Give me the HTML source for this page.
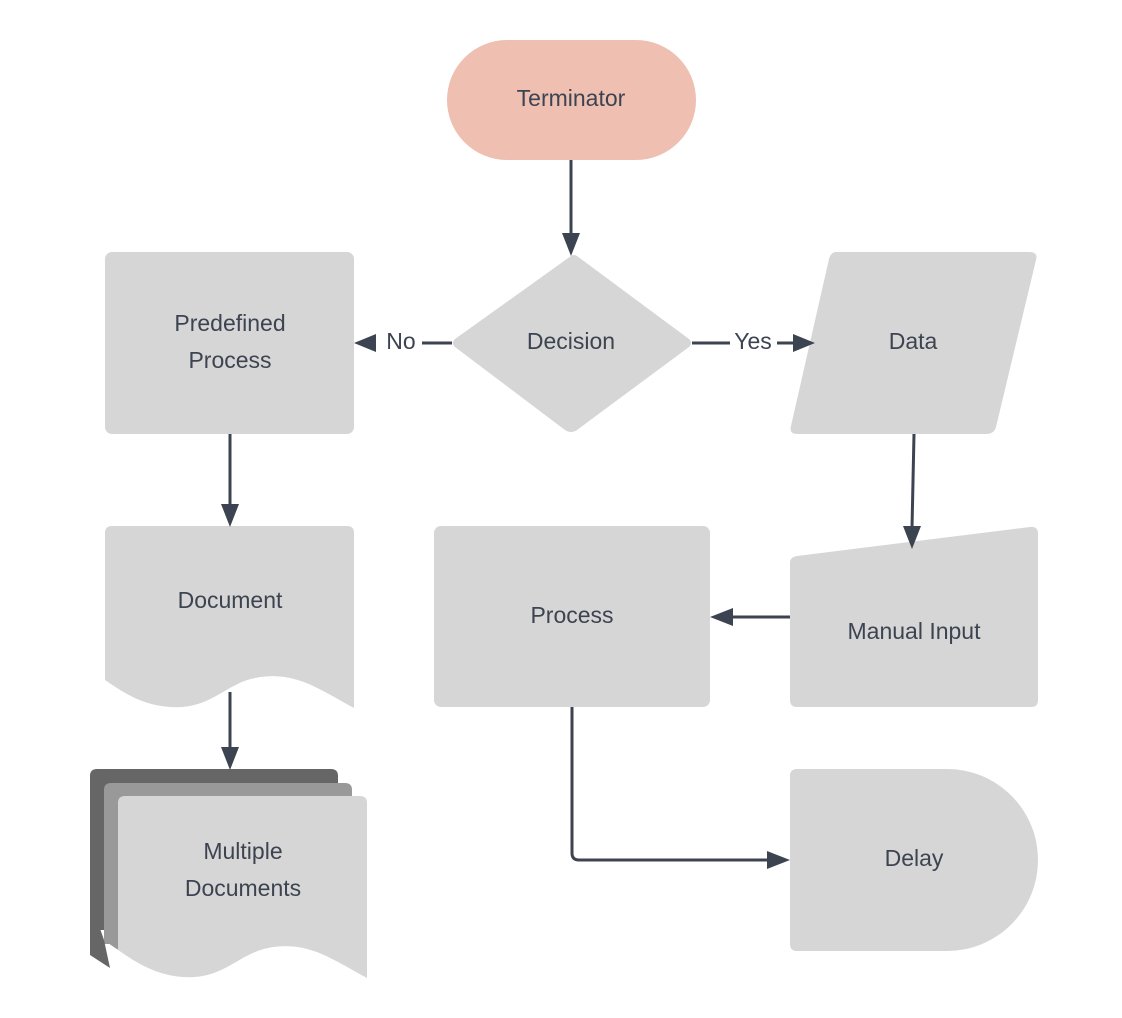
<!DOCTYPE html>
<html><head><meta charset="utf-8"><style>
html,body{margin:0;padding:0;background:#fff;}
svg{display:block;}
text{font-family:"Liberation Sans",sans-serif;font-size:23px;fill:#3d4451;text-anchor:middle;dominant-baseline:middle;}
</style></head><body>
<svg width="1122" height="1018" viewBox="0 0 1122 1018">
<defs>
<marker id="a" markerWidth="10" markerHeight="10" refX="9" refY="5" orient="auto" markerUnits="userSpaceOnUse" viewBox="0 0 10 10">
</marker>
</defs>
<g fill="#d6d6d6">
<rect x="447" y="40" width="249" height="120" rx="60" fill="#efbfb2"/>
<path d="M571 256 Q574 254 577 256 L689 339 Q693 343 689 347 L577 430 Q571 434 565 430 L455 347 Q451 343 455 339 Z"/>
<rect x="105" y="252" width="249" height="182" rx="7"/>
<path d="M836 252 L1030 252 Q1038 252 1036 260 L996 427 Q994 434 986 434 L797 434 Q789 434 791 426 L829 259 Q831 252 836 252 Z"/>
<path d="M112 526 L347 526 Q354 526 354 533 L354 708 C320 690 295 670 255 678 C225 684 210 710 170 707 C140 705 120 690 105 680 L105 533 Q105 526 112 526 Z"/>
<path d="M97 769 L331 769 Q338 769 338 776 L338 930 L90 930 L90 776 Q90 769 97 769 Z" fill="#666"/>
<path d="M111 783 L345 783 Q352 783 352 790 L352 944 L104 944 L104 790 Q104 783 111 783 Z" fill="#999"/>
<path d="M90 900 L90 955 L110 968 L104 940 Z" fill="#666"/>
<path d="M104 920 L104 940 C112 946 118 950 122 952 L118 920 Z" fill="#999"/>
<path d="M125 796 L360 796 Q367 796 367 803 L367 978 C333 960 308 940 268 948 C238 954 223 980 183 977 C153 975 133 960 118 950 L118 803 Q118 796 125 796 Z"/>
<rect x="434" y="526" width="276" height="181" rx="7"/>
<path d="M797 556 L1030 527 Q1038 526 1038 534 L1038 700 Q1038 707 1031 707 L797 707 Q790 707 790 700 L790 563 Q790 557 797 556 Z"/>
<path d="M797 769 L947 769 A91 91 0 0 1 947 951 L797 951 Q790 951 790 944 L790 776 Q790 769 797 769 Z"/>
</g>
<g stroke="#3d4451" stroke-width="3" fill="none">
<line x1="571" y1="160" x2="571" y2="235"/>
<line x1="452" y1="343" x2="422" y2="343"/>
<line x1="692" y1="343" x2="730" y2="343"/>
<line x1="777" y1="343" x2="795" y2="343"/>
<line x1="914" y1="434" x2="912" y2="528"/>
<line x1="790" y1="617" x2="730" y2="617"/>
<path d="M572 707 L572 853 Q572 860 579 860 L770 860"/>
<line x1="230" y1="434" x2="230" y2="506"/>
<line x1="230" y1="692" x2="230" y2="749"/>
</g>
<g fill="#3d4451">
<polygon points="562,233 580,233 571,256"/>
<polygon points="354,343 376,334 376,352"/>
<polygon points="815,343 793,334 793,352"/>
<polygon points="903,526 921,526 912,549"/>
<polygon points="710,617 733,608 733,626"/>
<polygon points="790,860 767,851 767,869"/>
<polygon points="221,504 239,504 230,527"/>
<polygon points="221,747 239,747 230,770"/>
</g>
<text x="571" y="100">Terminator</text>
<text x="571" y="343">Decision</text>
<text x="401" y="343">No</text>
<text x="753" y="343">Yes</text>
<text x="230" y="325">Predefined</text>
<text x="230" y="362">Process</text>
<text x="913" y="343">Data</text>
<text x="230" y="602">Document</text>
<text x="572" y="617">Process</text>
<text x="914" y="633">Manual Input</text>
<text x="243" y="853">Multiple</text>
<text x="243" y="890">Documents</text>
<text x="914" y="860">Delay</text>
</svg>
</body></html>
